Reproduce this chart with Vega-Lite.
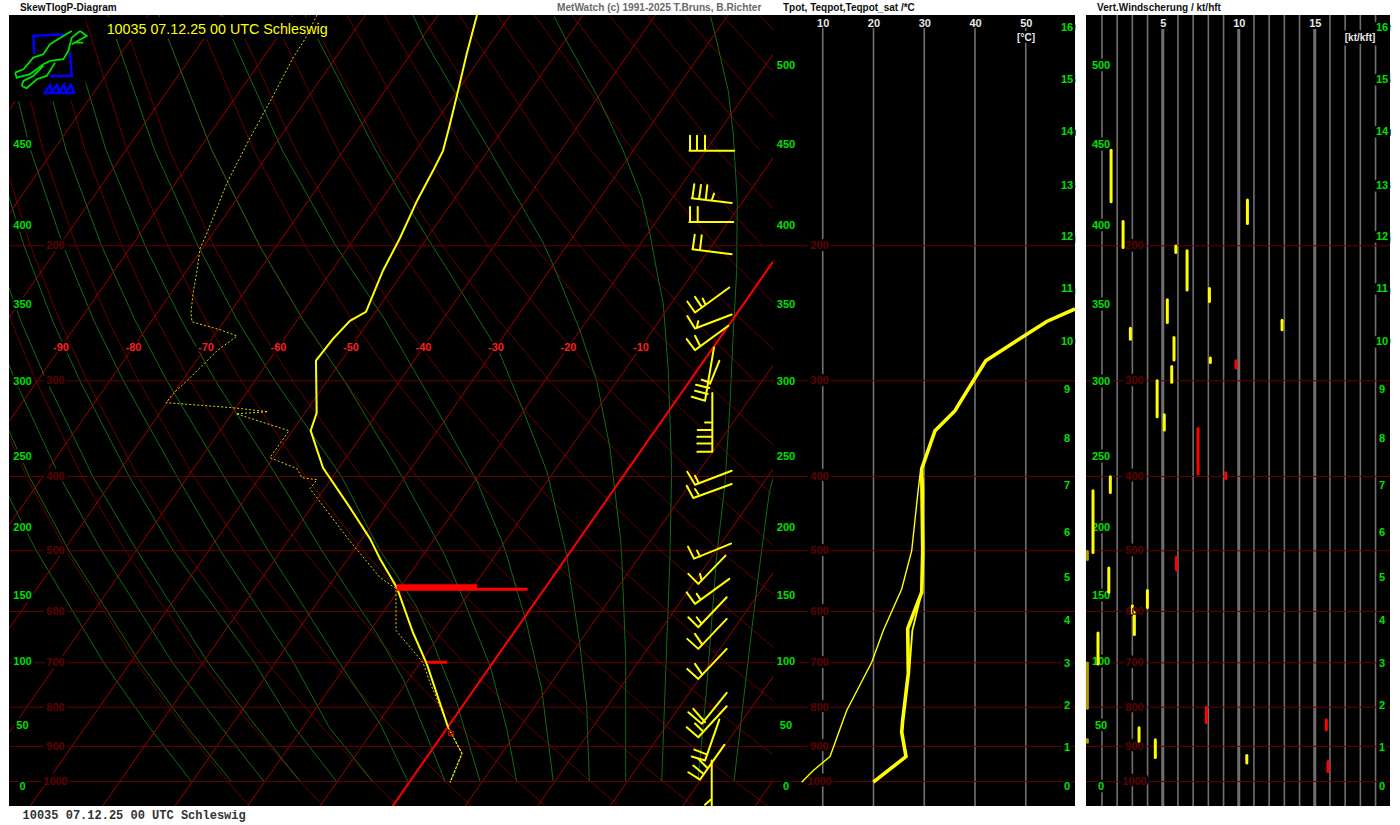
{"$schema":"https://vega.github.io/schema/vega-lite/v6.json","background":"white","padding":{"left":8,"top":2,"right":0,"bottom":6},"spacing":9,
"config":{"view":{"fill":"#000000","stroke":null}},
"datasets":{
"iso":[{"p":200,"a":-97.17,"a2":8.21,"la":-90.83,"b":0.2,"b2":59.7,"lb":9.26,"c":-0.05,"c2":19.95,"lc":3.11},{"p":300,"a":-97.17,"a2":8.21,"la":-90.83,"b":0.2,"b2":59.7,"lb":9.26,"c":-0.05,"c2":19.95,"lc":3.11},{"p":400,"a":-97.17,"a2":8.21,"la":-90.83,"b":0.2,"b2":59.7,"lb":9.26,"c":-0.05,"c2":19.95,"lc":3.11},{"p":500,"a":-97.17,"a2":8.21,"la":-90.83,"b":0.2,"b2":59.7,"lb":9.26,"c":-0.05,"c2":19.95,"lc":3.11},{"p":600,"a":-97.17,"a2":8.21,"la":-90.83,"b":0.2,"b2":59.7,"lb":9.26,"c":-0.05,"c2":19.95,"lc":3.11},{"p":700,"a":-97.17,"a2":8.21,"la":-90.83,"b":0.2,"b2":59.7,"lb":9.26,"c":-0.05,"c2":19.95,"lc":3.11},{"p":800,"a":-97.17,"a2":8.21,"la":-90.83,"b":0.2,"b2":59.7,"lb":9.26,"c":-0.05,"c2":19.95,"lc":3.11},{"p":900,"a":-97.17,"a2":8.21,"la":-90.83,"b":0.2,"b2":59.7,"lb":9.26,"c":-0.05,"c2":19.95,"lc":3.11},{"p":1000,"a":-97.17,"a2":8.21,"la":-90.83,"b":0.2,"b2":59.7,"lb":9.26,"c":-0.05,"c2":19.95,"lc":3.11}],
"gpdam":[{"t":"500","p":116.5,"a":-95.31,"b":2.76,"c":0.94},{"t":"450","p":147.8,"a":-95.31,"b":2.76,"c":0.94},{"t":"400","p":188.4,"a":-95.31,"b":2.76,"c":0.94},{"t":"350","p":238.9,"a":-95.31,"b":2.76,"c":0.94},{"t":"300","p":301.3,"a":-95.31,"b":2.76,"c":0.94},{"t":"250","p":377,"a":-95.31,"b":2.76,"c":0.94},{"t":"200","p":466.5,"a":-95.31,"b":2.76,"c":0.94},{"t":"150","p":572.1,"a":-95.31,"b":2.76,"c":0.94},{"t":"100","p":698.6,"a":-95.31,"b":2.76,"c":0.94},{"t":"50","p":846.6,"a":-95.31,"b":2.76,"c":0.94},{"t":"0","p":1016.7,"a":-95.31,"b":2.76,"c":0.94}],
"km":[{"t":"16","p":104,"b":58.13,"c":19.43},{"t":"15","p":121.5,"b":58.13,"c":19.43},{"t":"14","p":142,"b":58.13,"c":19.43},{"t":"13","p":167.1,"b":58.13,"c":19.43},{"t":"12","p":194.8,"b":58.13,"c":19.43},{"t":"11","p":227.6,"b":58.13,"c":19.43},{"t":"10","p":266.9,"b":58.13,"c":19.43},{"t":"9","p":308.3,"b":58.13,"c":19.43},{"t":"8","p":357,"b":58.13,"c":19.43},{"t":"7","p":411.2,"b":58.13,"c":19.43},{"t":"6","p":473.5,"b":58.13,"c":19.43},{"t":"5","p":541.9,"b":58.13,"c":19.43},{"t":"4","p":616.7,"b":58.13,"c":19.43},{"t":"3","p":701.7,"b":58.13,"c":19.43},{"t":"2","p":796,"b":58.13,"c":19.43},{"t":"1","p":903,"b":58.13,"c":19.43},{"t":"0","p":1016.7,"b":58.13,"c":19.43}],
"tlab":[{"t":"-90","x":-90,"p":271.8},{"t":"-80","x":-80,"p":271.8},{"t":"-70","x":-70,"p":271.8},{"t":"-60","x":-60,"p":271.8},{"t":"-50","x":-50,"p":271.8},{"t":"-40","x":-40,"p":271.8},{"t":"-30","x":-30,"p":271.8},{"t":"-20","x":-20,"p":271.8},{"t":"-10","x":-10,"p":271.8}],
"isotherms":[{"T":-120,"x":-164.25,"x2":-88,"p":1076.4,"p2":100},{"T":-110,"x":-154.25,"x2":-78,"p":1076.4,"p2":100},{"T":-100,"x":-144.25,"x2":-68,"p":1076.4,"p2":100},{"T":-90,"x":-134.25,"x2":-58,"p":1076.4,"p2":100},{"T":-80,"x":-124.25,"x2":-48,"p":1076.4,"p2":100},{"T":-70,"x":-114.25,"x2":-38,"p":1076.4,"p2":100},{"T":-60,"x":-104.25,"x2":-28,"p":1076.4,"p2":100},{"T":-50,"x":-94.25,"x2":-18,"p":1076.4,"p2":100},{"T":-40,"x":-84.25,"x2":-8,"p":1076.4,"p2":100},{"T":-30,"x":-74.25,"x2":2,"p":1076.4,"p2":100},{"T":-20,"x":-64.25,"x2":12,"p":1076.4,"p2":100},{"T":-10,"x":-54.25,"x2":22,"p":1076.4,"p2":100},{"T":10,"x":-34.25,"x2":42,"p":1076.4,"p2":100},{"T":20,"x":-24.25,"x2":52,"p":1076.4,"p2":100},{"T":30,"x":-14.25,"x2":62,"p":1076.4,"p2":100},{"T":40,"x":-4.25,"x2":72,"p":1076.4,"p2":100},{"T":50,"x":5.75,"x2":82,"p":1076.4,"p2":100}],
"dry":[
{"c":"248","p":1078,"x":-63.97},{"c":"248","p":1000,"x":-66.99},{"c":"248","p":850,"x":-73.05},{"c":"248","p":700,"x":-79.6},{"c":"248","p":500,"x":-89.33},{"c":"248","p":400,"x":-94.77},{"c":"248","p":300,"x":-100.57},
{"c":"258","p":1078,"x":-53.75},{"c":"258","p":1000,"x":-56.99},{"c":"258","p":850,"x":-63.5},{"c":"258","p":700,"x":-70.57},{"c":"258","p":500,"x":-81.13},{"c":"258","p":400,"x":-87.08},{"c":"258","p":300,"x":-93.48},{"c":"258","p":250,"x":-96.93},{"c":"258","p":200,"x":-100.51},
{"c":"268","p":1078,"x":-43.54},{"c":"268","p":1000,"x":-46.99},{"c":"268","p":850,"x":-53.96},{"c":"268","p":700,"x":-61.54},{"c":"268","p":500,"x":-72.93},{"c":"268","p":400,"x":-79.38},{"c":"268","p":300,"x":-86.4},{"c":"268","p":250,"x":-90.21},{"c":"268","p":200,"x":-94.2},{"c":"268","p":150,"x":-98.3},
{"c":"278","p":1078,"x":-33.32},{"c":"278","p":1000,"x":-36.99},{"c":"278","p":850,"x":-44.41},{"c":"278","p":700,"x":-52.51},{"c":"278","p":500,"x":-64.72},{"c":"278","p":400,"x":-71.69},{"c":"278","p":300,"x":-79.31},{"c":"278","p":250,"x":-83.48},{"c":"278","p":200,"x":-87.89},{"c":"278","p":150,"x":-92.49},{"c":"278","p":100,"x":-97.17},
{"c":"288","p":1078,"x":-23.1},{"c":"288","p":1000,"x":-26.99},{"c":"288","p":850,"x":-34.87},{"c":"288","p":700,"x":-43.48},{"c":"288","p":500,"x":-56.52},{"c":"288","p":400,"x":-64},{"c":"288","p":300,"x":-72.22},{"c":"288","p":250,"x":-76.75},{"c":"288","p":200,"x":-81.58},{"c":"288","p":150,"x":-86.68},{"c":"288","p":100,"x":-92},
{"c":"298","p":1078,"x":-12.89},{"c":"298","p":1000,"x":-16.99},{"c":"298","p":850,"x":-25.32},{"c":"298","p":700,"x":-34.45},{"c":"298","p":500,"x":-48.32},{"c":"298","p":400,"x":-56.3},{"c":"298","p":300,"x":-65.14},{"c":"298","p":250,"x":-70.03},{"c":"298","p":200,"x":-75.27},{"c":"298","p":150,"x":-80.87},{"c":"298","p":100,"x":-86.82},
{"c":"308","p":1078,"x":-2.67},{"c":"308","p":1000,"x":-6.99},{"c":"308","p":850,"x":-15.78},{"c":"308","p":700,"x":-25.42},{"c":"308","p":500,"x":-40.12},{"c":"308","p":400,"x":-48.61},{"c":"308","p":300,"x":-58.05},{"c":"308","p":250,"x":-63.3},{"c":"308","p":200,"x":-68.95},{"c":"308","p":150,"x":-75.05},{"c":"308","p":100,"x":-81.64},
{"c":"318","p":1078,"x":7.55},{"c":"318","p":1000,"x":3.01},{"c":"318","p":850,"x":-6.23},{"c":"318","p":700,"x":-16.39},{"c":"318","p":500,"x":-31.92},{"c":"318","p":400,"x":-40.91},{"c":"318","p":300,"x":-50.96},{"c":"318","p":250,"x":-56.57},{"c":"318","p":200,"x":-62.64},{"c":"318","p":150,"x":-69.24},{"c":"318","p":100,"x":-76.47},
{"c":"328","p":1078,"x":17.77},{"c":"328","p":1000,"x":13.01},{"c":"328","p":850,"x":3.32},{"c":"328","p":700,"x":-7.36},{"c":"328","p":500,"x":-23.71},{"c":"328","p":400,"x":-33.22},{"c":"328","p":300,"x":-43.87},{"c":"328","p":250,"x":-49.84},{"c":"328","p":200,"x":-56.33},{"c":"328","p":150,"x":-63.43},{"c":"328","p":100,"x":-71.29},
{"c":"338","p":850,"x":12.86},{"c":"338","p":700,"x":1.67},{"c":"338","p":500,"x":-15.51},{"c":"338","p":400,"x":-25.52},{"c":"338","p":300,"x":-36.79},{"c":"338","p":250,"x":-43.12},{"c":"338","p":200,"x":-50.02},{"c":"338","p":150,"x":-57.61},{"c":"338","p":100,"x":-66.11},
{"c":"348","p":700,"x":10.7},{"c":"348","p":500,"x":-7.31},{"c":"348","p":400,"x":-17.83},{"c":"348","p":300,"x":-29.7},{"c":"348","p":250,"x":-36.39},{"c":"348","p":200,"x":-43.71},{"c":"348","p":150,"x":-51.8},{"c":"348","p":100,"x":-60.94},
{"c":"358","p":700,"x":19.73},{"c":"358","p":500,"x":0.89},{"c":"358","p":400,"x":-10.13},{"c":"358","p":300,"x":-22.61},{"c":"358","p":250,"x":-29.66},{"c":"358","p":200,"x":-37.4},{"c":"358","p":150,"x":-45.99},{"c":"358","p":100,"x":-55.76},
{"c":"368","p":500,"x":9.09},{"c":"368","p":400,"x":-2.44},{"c":"368","p":300,"x":-15.53},{"c":"368","p":250,"x":-22.94},{"c":"368","p":200,"x":-31.09},{"c":"368","p":150,"x":-40.17},{"c":"368","p":100,"x":-50.59},
{"c":"378","p":500,"x":17.3},{"c":"378","p":400,"x":5.25},{"c":"378","p":300,"x":-8.44},{"c":"378","p":250,"x":-16.21},{"c":"378","p":200,"x":-24.78},{"c":"378","p":150,"x":-34.36},{"c":"378","p":100,"x":-45.41},
{"c":"388","p":400,"x":12.95},{"c":"388","p":300,"x":-1.35},{"c":"388","p":250,"x":-9.48},{"c":"388","p":200,"x":-18.47},{"c":"388","p":150,"x":-28.55},{"c":"388","p":100,"x":-40.24},
{"c":"398","p":300,"x":5.74},{"c":"398","p":250,"x":-2.76},{"c":"398","p":200,"x":-12.16},{"c":"398","p":150,"x":-22.74},{"c":"398","p":100,"x":-35.06},
{"c":"408","p":300,"x":12.82},{"c":"408","p":250,"x":3.97},{"c":"408","p":200,"x":-5.85},{"c":"408","p":150,"x":-16.92},{"c":"408","p":100,"x":-29.88},
{"c":"418","p":250,"x":10.7},{"c":"418","p":200,"x":0.46},{"c":"418","p":150,"x":-11.11},{"c":"418","p":100,"x":-24.71},
{"c":"428","p":200,"x":6.77},{"c":"428","p":150,"x":-5.3},{"c":"428","p":100,"x":-19.53},
{"c":"438","p":200,"x":13.08},{"c":"438","p":150,"x":0.51},{"c":"438","p":100,"x":-14.36},
{"c":"448","p":150,"x":6.33},{"c":"448","p":100,"x":-9.18},
{"c":"458","p":150,"x":12.14},{"c":"458","p":100,"x":-4},
{"c":"468","p":150,"x":17.95},{"c":"468","p":100,"x":1.17},
{"c":"478","p":150,"x":23.77},{"c":"478","p":100,"x":6.35}],
"moist":[
{"c":"-30","p":1000,"x":-71.99},{"c":"-30","p":850,"x":-77.8},{"c":"-30","p":700,"x":-84.1},{"c":"-30","p":500,"x":-93.4},{"c":"-30","p":400,"x":-98.6},
{"c":"-25","p":1000,"x":-66.49},{"c":"-25","p":850,"x":-72.6},{"c":"-25","p":700,"x":-79.1},{"c":"-25","p":500,"x":-88.9},{"c":"-25","p":400,"x":-94.4},{"c":"-25","p":300,"x":-100.2},
{"c":"-20","p":1000,"x":-61.99},{"c":"-20","p":850,"x":-67.9},{"c":"-20","p":700,"x":-74.6},{"c":"-20","p":500,"x":-84.4},{"c":"-20","p":400,"x":-90.2},{"c":"-20","p":300,"x":-96.3},{"c":"-20","p":250,"x":-99.6},
{"c":"-15","p":1000,"x":-56.99},{"c":"-15","p":850,"x":-63},{"c":"-15","p":700,"x":-69.7},{"c":"-15","p":500,"x":-79.5},{"c":"-15","p":400,"x":-85.6},{"c":"-15","p":300,"x":-92},{"c":"-15","p":250,"x":-95.6},{"c":"-15","p":200,"x":-99.2},
{"c":"-10","p":1000,"x":-51.99},{"c":"-10","p":850,"x":-57.8},{"c":"-10","p":700,"x":-63.3},{"c":"-10","p":500,"x":-74.5},{"c":"-10","p":400,"x":-80.6},{"c":"-10","p":300,"x":-87.4},{"c":"-10","p":250,"x":-91.2},{"c":"-10","p":200,"x":-95.1},{"c":"-10","p":150,"x":-99.2},
{"c":"-5","p":1000,"x":-46.99},{"c":"-5","p":850,"x":-53},{"c":"-5","p":700,"x":-57.9},{"c":"-5","p":500,"x":-68},{"c":"-5","p":400,"x":-74},{"c":"-5","p":300,"x":-81.4},{"c":"-5","p":250,"x":-85.5},{"c":"-5","p":200,"x":-89.7},{"c":"-5","p":150,"x":-94.2},{"c":"-5","p":100,"x":-98.8},
{"c":"0","p":1000,"x":-42.14},{"c":"0","p":840,"x":-46},{"c":"0","p":700,"x":-51.6},{"c":"0","p":500,"x":-61.4},{"c":"0","p":400,"x":-67.5},{"c":"0","p":300,"x":-75.4},{"c":"0","p":250,"x":-79.8},{"c":"0","p":200,"x":-84.4},{"c":"0","p":150,"x":-89.3},{"c":"0","p":100,"x":-94.3},
{"c":"5","p":1000,"x":-37.03},{"c":"5","p":871,"x":-39.56},{"c":"5","p":733.9,"x":-42.83},{"c":"5","p":651,"x":-46},{"c":"5","p":500,"x":-54},{"c":"5","p":400,"x":-60.2},{"c":"5","p":300,"x":-68.7},{"c":"5","p":250,"x":-73.4},{"c":"5","p":200,"x":-78.4},{"c":"5","p":150,"x":-83.8},{"c":"5","p":100,"x":-89.4},
{"c":"10","p":1000,"x":-32.2},{"c":"10","p":789,"x":-35.42},{"c":"10","p":658.8,"x":-38.69},{"c":"10","p":592,"x":-40.94},{"c":"10","p":538.6,"x":-43.66},{"c":"10","p":500,"x":-46},{"c":"10","p":400,"x":-51.3},{"c":"10","p":300,"x":-60.5},{"c":"10","p":250,"x":-65.7},{"c":"10","p":200,"x":-71.1},{"c":"10","p":150,"x":-77.1},{"c":"10","p":100,"x":-83.5},
{"c":"15","p":1000,"x":-27.14},{"c":"15","p":852.9,"x":-28.52},{"c":"15","p":706,"x":-30.83},{"c":"15","p":577,"x":-34.55},{"c":"15","p":507.4,"x":-37.03},{"c":"15","p":485,"x":-38.14},{"c":"15","p":402,"x":-42.83},{"c":"15","p":300,"x":-50.9},{"c":"15","p":250,"x":-56.6},{"c":"15","p":200,"x":-62.6},{"c":"15","p":150,"x":-69.2},{"c":"15","p":100,"x":-76.5},
{"c":"20","p":1000,"x":-22.1},{"c":"20","p":756.4,"x":-23.7},{"c":"20","p":622,"x":-25.77},{"c":"20","p":507,"x":-28.52},{"c":"20","p":485,"x":-29.21},{"c":"20","p":405.1,"x":-32.66},{"c":"20","p":338.3,"x":-37.27},{"c":"20","p":250,"x":-45.3},{"c":"20","p":200,"x":-52.1},{"c":"20","p":150,"x":-59.5},{"c":"20","p":100,"x":-67.8},
{"c":"25","p":1000,"x":-17.13},{"c":"25","p":796,"x":-17.49},{"c":"25","p":664.6,"x":-18.41},{"c":"25","p":507.4,"x":-20.25},{"c":"25","p":485,"x":-20.72},{"c":"25","p":393.1,"x":-23.01},{"c":"25","p":328.3,"x":-26.23},{"c":"25","p":276.6,"x":-29.45},{"c":"25","p":215.6,"x":-36.58},{"c":"25","p":195.9,"x":-39.38},{"c":"25","p":170.6,"x":-43.24},{"c":"25","p":150,"x":-46.6},{"c":"25","p":100,"x":-56.3},
{"c":"30","p":1000,"x":-12.11},{"c":"30","p":685.1,"x":-12.11},{"c":"30","p":507.4,"x":-12.66},{"c":"30","p":485,"x":-12.8},{"c":"30","p":366.9,"x":-14.28},{"c":"30","p":300,"x":-16.11},{"c":"30","p":258.2,"x":-18.41},{"c":"30","p":215.6,"x":-21.77},{"c":"30","p":198.3,"x":-23.48},{"c":"30","p":178.5,"x":-26.28},{"c":"30","p":150.4,"x":-30.83},{"c":"30","p":123,"x":-36.34},{"c":"30","p":108.1,"x":-39.79},{"c":"30","p":100,"x":-41.45},
{"c":"35","p":1000,"x":-7.14},{"c":"35","p":507.4,"x":-6},{"c":"35","p":393.1,"x":-5.77},{"c":"35","p":291.2,"x":-6.23},{"c":"35","p":238,"x":-6.92},{"c":"35","p":215.6,"x":-7.83},{"c":"35","p":193,"x":-8.76},{"c":"35","p":173.3,"x":-9.9},{"c":"35","p":150.4,"x":-12.44},{"c":"35","p":129.5,"x":-15.66},{"c":"35","p":108.1,"x":-20.25},{"c":"35","p":100.5,"x":-21.96},
{"c":"40","p":1000,"x":-2.14},{"c":"40","p":756.4,"x":-0.94},{"c":"40","p":507.4,"x":0.44},{"c":"40","p":408.7,"x":1.59},{"c":"40","p":321.5,"x":2.28},{"c":"40","p":264.5,"x":2.69},{"c":"40","p":215.6,"x":3.2},{"c":"40","p":174.8,"x":3.28},{"c":"40","p":143,"x":2.73},{"c":"40","p":125.6,"x":2.04},{"c":"40","p":108.1,"x":0.44},{"c":"40","p":100.5,"x":-0.39},
{"c":"45","p":1000,"x":2.83},{"c":"45","p":721,"x":4.58},{"c":"45","p":560.2,"x":5.96},{"c":"45","p":485,"x":6.83},{"c":"45","p":419.9,"x":7.7},{"c":"45","p":393,"x":8.5}],
"temp":[{"x":-32.62,"p":100},{"x":-34.04,"p":112.4},{"x":-35.24,"p":125.6},{"x":-36.34,"p":138.7},{"x":-37.31,"p":150.4},{"x":-38.69,"p":159.7},{"x":-40.9,"p":174.8},{"x":-43.24,"p":195.4},{"x":-45.59,"p":215.6},{"x":-47.93,"p":243.9},{"x":-50.14,"p":250.6},{"x":-52.48,"p":264.5},{"x":-54.83,"p":282.5},{"x":-54.73,"p":330.3},{"x":-55.56,"p":348.6},{"x":-53.86,"p":389.6},{"x":-50.14,"p":439.3},{"x":-47.38,"p":482.1},{"x":-46,"p":512},{"x":-43.66,"p":558.6},{"x":-41.45,"p":639.2},{"x":-39.52,"p":703.6},{"x":-36.62,"p":849.1}],
"templow":[{"x":-36.62,"p":849.1},{"x":-34.69,"p":919.4},{"x":-36.34,"p":1003}],
"dew":[{"x":-54.69,"p":100},{"x":-56.34,"p":107.5},{"x":-58,"p":113.8},{"x":-60.9,"p":128.3},{"x":-63.93,"p":144.7},{"x":-67.1,"p":165.6},{"x":-69.86,"p":192.4},{"x":-70.83,"p":201.9},{"x":-71.24,"p":215.6},{"x":-71.79,"p":231},{"x":-72.07,"p":244.6},{"x":-71.93,"p":251.4},{"x":-68.07,"p":257.4},{"x":-65.72,"p":262.3},{"x":-68.48,"p":274.2},{"x":-72.62,"p":300},{"x":-74.55,"p":312},{"x":-75.52,"p":320.5},{"x":-69.86,"p":323.4},{"x":-66.28,"p":325.4},{"x":-61.45,"p":329.3},{"x":-63.52,"p":330.3},{"x":-65.86,"p":331.3},{"x":-58.55,"p":348.6},{"x":-61.17,"p":378.1},{"x":-57.45,"p":390.7},{"x":-56.76,"p":401.5},{"x":-54.69,"p":403.9},{"x":-55.66,"p":414.9},{"x":-50.41,"p":482.1},{"x":-46,"p":541.9},{"x":-43.79,"p":560.2},{"x":-43.79,"p":635.5},{"x":-41.45,"p":674.8},{"x":-40.07,"p":699.7},{"x":-39.1,"p":742.9},{"x":-36.62,"p":845.3}],
"wind":[{"s":"b01","p":150.4,"x":-0.34},{"s":"b02","p":174.8,"x":-0.34},{"s":"b03","p":186.2,"x":-0.34},{"s":"b04","p":203.7,"x":-0.34},{"s":"b05","p":236,"x":-0.34},{"s":"b06","p":252.1,"x":-0.34},{"s":"b07","p":264.5,"x":-0.34},{"s":"b08","p":293.8,"x":-0.34},{"s":"b09","p":339.3,"x":-0.34},{"s":"b10","p":400.3,"x":-0.34},{"s":"b11","p":418.7,"x":-0.34},{"s":"b12","p":501.3,"x":-0.34},{"s":"b13","p":530.7,"x":-0.34},{"s":"b14","p":565.3,"x":-0.34},{"s":"b15","p":603.8,"x":-0.34},{"s":"b16","p":645.1,"x":-0.34},{"s":"b16","p":706,"x":-0.34},{"s":"b17","p":812.9,"x":-0.34},{"s":"b18","p":840.2,"x":-0.34},{"s":"b19","p":892.3,"x":-0.34},{"s":"b20","p":947.5,"x":-0.34},{"s":"b21","p":1003,"x":-0.34}]
},
"hconcat":[{"bounds":"flush","spacing":0,"hconcat":[
{"width":764,"height":791,
"encoding":{"x":{"field":"x","type":"quantitative","title":null,"axis":null,"scale":{"domain":[-97.17,8.21],"nice":false,"zero":false}},
"y":{"field":"p","type":"quantitative","title":null,"scale":{"type":"log","domain":[100,1076.4],"reverse":true,"nice":false},"axis":{"orient":"left","values":[200,300,400,500,600,700,800,900,1000],"format":"d","domain":false,"ticks":false,"grid":false,"labelPadding":-46,"labelAlign":"center","labelColor":"#600000","labelFont":"Liberation Sans","labelFontWeight":"bold","labelFontSize":11,"labelOverlap":false,"labelBound":false,"zindex":1}}},
"layer":[
{"data":{"name":"dry"},"mark":{"type":"line","clip":true,"stroke":"#660000","strokeWidth":1},"encoding":{"detail":{"field":"c"},"order":{"value":null}}},
{"data":{"name":"moist"},"mark":{"type":"line","clip":true,"stroke":"#136a13","strokeWidth":1},"encoding":{"detail":{"field":"c"},"order":{"value":null}}},
{"data":{"name":"isotherms"},"mark":{"type":"rule","clip":true,"stroke":"#a00000","strokeWidth":1},"encoding":{"x2":{"field":"x2"},"y2":{"field":"p2"}}},
{"data":{"name":"iso"},"mark":{"type":"rule","stroke":"#660000","strokeWidth":1},"encoding":{"x":{"field":"a"},"x2":{"field":"a2"}}},
{"data":{"values":[{"x":-97.17,"x2":-86.6,"p":100,"p2":129.5},{"x":-85.72,"x2":-52.9,"p":100.6,"p2":107.5}]},"mark":{"type":"rect","fill":"#000000"},"encoding":{"x2":{"field":"x2"},"y2":{"field":"p2"}}},
{"data":{"values":[{"x":-44.25,"x2":32,"p":1076.4,"p2":100}]},"mark":{"type":"rule","clip":true,"stroke":"#ff0000","strokeWidth":2},"encoding":{"x2":{"field":"x2"},"y2":{"field":"p2"}}},
{"data":{"name":"gpdam"},"transform":[{"filter":"datum.p>120"}],"mark":{"type":"text","font":"Liberation Sans","fontWeight":"bold","fontSize":11,"fill":"#000000","stroke":"#000000","strokeWidth":5},"encoding":{"x":{"field":"a"},"text":{"field":"t","type":"nominal"}}},
{"data":{"name":"iso"},"mark":{"type":"text","font":"Liberation Sans","fontWeight":"bold","fontSize":11,"fill":"#000000","stroke":"#000000","strokeWidth":5},"encoding":{"x":{"field":"la"},"text":{"field":"p","type":"nominal"}}},
{"data":{"name":"tlab"},"mark":{"type":"text","font":"Liberation Sans","fontWeight":"bold","fontSize":11,"fill":"#000000","stroke":"#000000","strokeWidth":4},"encoding":{"text":{"field":"t","type":"nominal"}}},
{"data":{"name":"tlab"},"mark":{"type":"text","font":"Liberation Sans","fontWeight":"bold","fontSize":11,"fill":"#ff1e1e"},"encoding":{"text":{"field":"t","type":"nominal"}}},
{"data":{"name":"gpdam"},"transform":[{"filter":"datum.p>120"}],"mark":{"type":"text","font":"Liberation Sans","fontWeight":"bold","fontSize":11,"fill":"#00e000"},"encoding":{"x":{"field":"a"},"text":{"field":"t","type":"nominal"}}},
{"data":{"name":"dew"},"mark":{"type":"line","stroke":"#d8d800","strokeWidth":1,"strokeDash":[2,2],"clip":true},"encoding":{"order":{"value":null}}},
{"data":{"name":"templow"},"mark":{"type":"line","stroke":"#e8e800","strokeWidth":1.3,"strokeDash":[3,1]},"encoding":{"order":{"value":null}}},
{"data":{"name":"temp"},"mark":{"type":"line","stroke":"#ffff00","strokeWidth":2},"encoding":{"order":{"value":null}}},
{"data":{"values":[{"x":-43.7,"x2":-25.63,"p":561.3},{"x":-39.51,"x2":-36.75,"p":699}]},"mark":{"type":"rule","stroke":"#ff0000","strokeWidth":3},"encoding":{"x2":{"field":"x2"}}},
{"data":{"values":[{"x":-43.7,"x2":-32.62,"p":558}]},"mark":{"type":"rule","stroke":"#ff0000","strokeWidth":6},"encoding":{"x2":{"field":"x2"}}},
{"data":{"values":[{"x":-36.21,"p":865.8}]},"mark":{"type":"point","shape":"square","size":20,"filled":false,"stroke":"#ff0000","strokeWidth":1,"opacity":1}},
{"data":{"name":"wind"},"mark":{"type":"point","filled":false,"size":4,"opacity":1,"strokeWidth":2,"strokeCap":"round","stroke":"#ffff00"},
"encoding":{"shape":{"field":"s","type":"nominal","legend":null,"scale":{"domain":["b01","b02","b03","b04","b05","b06","b07","b08","b09","b10","b11","b12","b13","b14","b15","b16","b17","b18","b19","b20","b21"],"range":[
"M-21.5 0L23 0M-21 0L-21 -15M-14 0L-14 -15M-6 0L-6 -15",
"M-19.3 -2.7L20.7 2M-16.7 -16.7L-18.7 -2.7M-10 -16L-12 -1.7M-3.7 -15.7L-5.3 -1M3 -7.3L0.7 -0.7",
"M-21.7 0L22.3 0M-21 0L-21 -15M-13.3 0L-13.3 -15",
"M-18.7 -2.7L20.7 2.3M-16.3 -17L-18.3 -2.7M-9.3 -16.7L-11 -2",
"M-16 11.7L18.3 -13.3M-23.7 0.7L-16 11.7M-16 -4L-9.3 6M-8.3 -2.3L-6 2.7",
"M-16 5.7L20.7 -8.3M-23.7 -6.7L-16 5.7M-12.7 -1.7L-14.3 5",
"M-16 11.3L17.3 -13M-24.3 0.3L-16 11.3M-16 -3L-11 7",
"M-6 27L3 -26.3M-19.3 23L-6 27M-16 17L-3.3 20.3M-15 11L-1.7 14.3M-9.3 6L-1 8.7M8.3 -13L-1 10",
"M1.3 -28.7L1.3 30M-6 0.7L1.3 0.7M-13.3 8.3L1.3 8.3M-13.7 15L1.3 15M-13.7 21.7L1.3 21.7M-13.7 30L1.3 30",
"M-16 8L20.7 -6M-23.7 -5L-16 8M-16 -1L-12.7 5.7",
"M-17.7 6.3L20.7 -7.7M-24.3 -6L-17.7 6.3M-16 -2.7L-12.7 2.3",
"M-17 7L20 -8M-23 -5L-17 7M-14 -1L-11 5",
"M-12.7 13.3L14.5 -15M-22.7 3.3L-12.7 13.3M-11 3.3L-9.3 10",
"M-16 12.3L18.3 -12.7M-24.3 0.7L-16 12.3M-14.3 2.3L-11 7.3",
"M-12.7 13.7L15.7 -16.3M-22.7 3.7L-12.7 13.7M-14.3 3.7L-9.3 10.3",
"M-12.7 13.3L15.7 -16.7M-23.7 3.3L-12.7 13.3M-16 -1.7L-9.3 8.3",
"M-9.3 11.3L15.7 -19.7M-22.7 -0.3L-9.3 11.3M-17.7 -3.7L-6 9.7",
"M-12.7 13.7L15.7 -17.3M-24.3 3.7L-12.7 13.7M-16 0L-9 7",
"M-6 17L8.3 -24M-19.3 13L-6 17M-16.7 6L-3.7 11",
"M-11 16L13.3 -18.7M-22.7 8.7L-11 16M-17.7 2L-7.7 10.3M-12.7 -4.7L-4.3 3.7",
"M0.7 -22L0.7 23M-6 22.3L0.7 16.3"]}}}},
{"data":{"values":[{"s":"logo","x":-92.2,"p":114.8}]},"mark":{"type":"point","filled":false,"size":4,"opacity":1,"strokeWidth":2.5,"stroke":"#0000ff","shape":"M-10.7 -7L-11.7 -25L18.3 -26.7M25 -8.3L26.7 15L5 15M-2 32L30 32M0 32L5 24L7 31L12 24L14 31L19 24L21 31L26 24L29 32"}},
{"data":{"values":[{"s":"logo","x":-92.2,"p":114.8}]},"mark":{"type":"point","filled":false,"size":4,"opacity":1,"strokeWidth":1.8,"stroke":"#00e000","shape":"M-30 11.7L-21.7 8.3L-11.7 -3.3L-1.7 -6.7L5 -16.7L18.3 -25L26.7 -30M-30 11.7L-28.3 16.7L-15 13.3L-1.7 3.3L5 0L18.3 -1.7L23.3 -10L26.7 -23.3L35 -30M-23.3 25L-21.7 20L-11.7 15L-1.7 5M-23.3 25L-18.3 27.3L-8.3 18.3L1.7 15L10 1.7M26.7 -16.7L41.7 -25L35 -30M30 -18.3L38.3 -18.3"}},
{"data":{"values":[{"t":"10035 07.12.25 00 UTC Schleswig","x":-83.7,"p":104.7}]},"mark":{"type":"text","align":"left","font":"Liberation Sans","fontSize":14.3,"fill":"#ffff00"},"encoding":{"text":{"field":"t","type":"nominal"}}},
{"data":{"values":[{"t":"SkewTlogP-Diagram","x":-95.66,"p":97.9}]},"mark":{"type":"text","align":"left","font":"Liberation Sans","fontWeight":"bold","fontSize":10,"fill":"#111111"},"encoding":{"text":{"field":"t","type":"nominal"}}},
{"data":{"values":[{"t":"MetWatch  (c) 1991-2025 T.Bruns, B.Richter","x":-21.59,"p":97.9}]},"mark":{"type":"text","align":"left","font":"Liberation Sans","fontWeight":"bold","fontSize":10.15,"fill":"#6a6a6a"},"encoding":{"text":{"field":"t","type":"nominal"}}},
{"data":{"values":[{"t":"10035 07.12.25 00 UTC Schleswig","x":-95.31,"p":1105.8}]},"mark":{"type":"text","align":"left","font":"Liberation Mono","fontWeight":"bold","fontSize":12,"fill":"#333333"},"encoding":{"text":{"field":"t","type":"nominal"}}}
]},
{"width":302,"height":791,
"encoding":{"x":{"field":"x","type":"quantitative","title":null,"scale":{"domain":[0.2,59.7],"nice":false,"zero":false},"axis":{"orient":"top","values":[10,20,30,40,50],"domain":false,"ticks":false,"grid":false,"labelPadding":-13,"labelColor":"#e8e8e8","labelFont":"Liberation Sans","labelFontWeight":"bold","labelFontSize":11,"labelOverlap":false,"zindex":1}},
"y":{"field":"p","type":"quantitative","title":null,"scale":{"type":"log","domain":[100,1076.4],"reverse":true,"nice":false},"axis":{"orient":"left","values":[200,300,400,500,600,700,800,900,1000],"format":"d","domain":false,"ticks":false,"grid":false,"labelPadding":-46,"labelAlign":"center","labelColor":"#600000","labelFont":"Liberation Sans","labelFontWeight":"bold","labelFontSize":11,"labelOverlap":false,"labelBound":false,"zindex":1}}},
"layer":[
{"data":{"values":[{"x":10,"p":104,"p2":1076.4},{"x":20,"p":104,"p2":1076.4},{"x":30,"p":104,"p2":1076.4},{"x":40,"p":104,"p2":1076.4},{"x":50,"p":104,"p2":1076.4}]},"mark":{"type":"rule","stroke":"#707070","strokeWidth":1.6},"encoding":{"y2":{"field":"p2"}}},
{"data":{"name":"iso"},"mark":{"type":"rule","stroke":"#660000","strokeWidth":1},"encoding":{"x":{"field":"b"},"x2":{"field":"b2"}}},
{"data":{"name":"gpdam"},"mark":{"type":"text","font":"Liberation Sans","fontWeight":"bold","fontSize":11,"fill":"#000000","stroke":"#000000","strokeWidth":5},"encoding":{"x":{"field":"b"},"text":{"field":"t","type":"nominal"}}},
{"data":{"name":"km"},"mark":{"type":"text","font":"Liberation Sans","fontWeight":"bold","fontSize":11,"fill":"#000000","stroke":"#000000","strokeWidth":5},"encoding":{"x":{"field":"b"},"text":{"field":"t","type":"nominal"}}},
{"data":{"name":"iso"},"mark":{"type":"text","font":"Liberation Sans","fontWeight":"bold","fontSize":11,"fill":"#000000","stroke":"#000000","strokeWidth":5},"encoding":{"x":{"field":"lb"},"text":{"field":"p","type":"nominal"}}},
{"data":{"name":"gpdam"},"mark":{"type":"text","font":"Liberation Sans","fontWeight":"bold","fontSize":11,"fill":"#00e000"},"encoding":{"x":{"field":"b"},"text":{"field":"t","type":"nominal"}}},
{"data":{"name":"km"},"mark":{"type":"text","font":"Liberation Sans","fontWeight":"bold","fontSize":11,"fill":"#00e000"},"encoding":{"x":{"field":"b"},"text":{"field":"t","type":"nominal"}}},
{"data":{"values":[{"t":"[°C]","x":50.05,"p":107.3}]},"mark":{"type":"text","font":"Liberation Sans","fontWeight":"bold","fontSize":10,"fill":"#000000","stroke":"#000000","strokeWidth":5},"encoding":{"text":{"field":"t","type":"nominal"}}},
{"data":{"values":[{"t":"[°C]","x":50.05,"p":107.3}]},"mark":{"type":"text","font":"Liberation Sans","fontWeight":"bold","fontSize":10,"fill":"#e8e8e8"},"encoding":{"text":{"field":"t","type":"nominal"}}},
{"data":{"values":[{"x":5.85,"p":1002},{"x":8.14,"p":967.5},{"x":11.43,"p":927.8},{"x":14.72,"p":808},{"x":19.65,"p":699},{"x":21.93,"p":635.5},{"x":25.56,"p":560.8},{"x":27.53,"p":499.8},{"x":28.83,"p":415.2},{"x":29.3,"p":391.2}]},"mark":{"type":"line","stroke":"#ffff00","strokeWidth":1.4},"encoding":{"order":{"value":null}}},
{"data":{"values":[{"x":27,"p":727.5},{"x":27.19,"p":699},{"x":27.65,"p":635.5},{"x":29.5,"p":566.4},{"x":29.75,"p":499.8},{"x":29.81,"p":413.6},{"x":29.5,"p":390.8}]},"mark":{"type":"line","stroke":"#ffff00","strokeWidth":1.8},"encoding":{"order":{"value":null}}},
{"data":{"values":[{"x":19.96,"p":1002},{"x":26.4,"p":927.8},{"x":25.56,"p":862.3},{"x":25.75,"p":832.6},{"x":26.86,"p":723},{"x":26.74,"p":631.7},{"x":29.5,"p":566.4},{"x":29.7,"p":499.8},{"x":29.5,"p":390.8},{"x":32.12,"p":348.6},{"x":36.06,"p":328.3},{"x":37.04,"p":320.2},{"x":42.11,"p":282.5},{"x":54.13,"p":251.1},{"x":59.7,"p":241.8}]},"mark":{"type":"line","stroke":"#ffff00","strokeWidth":3.6,"clip":true},"encoding":{"order":{"value":null}}},
{"data":{"values":[{"t":"Tpot, Teqpot,Teqpot_sat /*C","x":2.16,"p":97.9}]},"mark":{"type":"text","align":"left","font":"Liberation Sans","fontWeight":"bold","fontSize":10,"fill":"#111111"},"encoding":{"text":{"field":"t","type":"nominal"}}}
]}
]},
{"width":304,"height":791,
"encoding":{"x":{"field":"x","type":"quantitative","title":null,"scale":{"domain":[-0.05,19.95],"nice":false,"zero":false},"axis":{"orient":"top","values":[5,10,15],"domain":false,"ticks":false,"grid":false,"labelPadding":-13,"labelColor":"#e8e8e8","labelFont":"Liberation Sans","labelFontWeight":"bold","labelFontSize":11,"labelOverlap":false,"zindex":1}},
"y":{"field":"p","type":"quantitative","title":null,"scale":{"type":"log","domain":[100,1076.4],"reverse":true,"nice":false},"axis":{"orient":"left","values":[200,300,400,500,600,700,800,900,1000],"format":"d","domain":false,"ticks":false,"grid":false,"labelPadding":-48,"labelAlign":"center","labelColor":"#600000","labelFont":"Liberation Sans","labelFontWeight":"bold","labelFontSize":11,"labelOverlap":false,"labelBound":false,"zindex":1}}},
"layer":[
{"data":{"values":[{"x":1,"p":100,"p2":1076.4},{"x":2,"p":100,"p2":1076.4},{"x":3,"p":100,"p2":1076.4},{"x":4,"p":100,"p2":1076.4},{"x":6,"p":100,"p2":1076.4},{"x":7,"p":100,"p2":1076.4},{"x":8,"p":100,"p2":1076.4},{"x":9,"p":100,"p2":1076.4},{"x":11,"p":100,"p2":1076.4},{"x":12,"p":100,"p2":1076.4},{"x":13,"p":100,"p2":1076.4},{"x":14,"p":100,"p2":1076.4},{"x":16,"p":100,"p2":1076.4},{"x":17,"p":100,"p2":1076.4},{"x":18,"p":100,"p2":1076.4},{"x":19,"p":100,"p2":1076.4}]},"mark":{"type":"rule","stroke":"#707070","strokeWidth":1.6},"encoding":{"y2":{"field":"p2"}}},
{"data":{"values":[{"x":5,"p":104.3,"p2":1076.4},{"x":10,"p":104.3,"p2":1076.4},{"x":15,"p":104.3,"p2":1076.4}]},"mark":{"type":"rule","stroke":"#707070","strokeWidth":3},"encoding":{"y2":{"field":"p2"}}},
{"data":{"name":"iso"},"mark":{"type":"rule","stroke":"#660000","strokeWidth":1},"encoding":{"x":{"field":"c"},"x2":{"field":"c2"}}},
{"data":{"name":"gpdam"},"mark":{"type":"text","font":"Liberation Sans","fontWeight":"bold","fontSize":11,"fill":"#000000","stroke":"#000000","strokeWidth":5},"encoding":{"x":{"field":"c"},"text":{"field":"t","type":"nominal"}}},
{"data":{"name":"km"},"mark":{"type":"text","font":"Liberation Sans","fontWeight":"bold","fontSize":11,"fill":"#000000","stroke":"#000000","strokeWidth":5},"encoding":{"x":{"field":"c"},"text":{"field":"t","type":"nominal"}}},
{"data":{"name":"iso"},"mark":{"type":"text","font":"Liberation Sans","fontWeight":"bold","fontSize":11,"fill":"#000000","stroke":"#000000","strokeWidth":5},"encoding":{"x":{"field":"lc"},"text":{"field":"p","type":"nominal"}}},
{"data":{"name":"gpdam"},"mark":{"type":"text","font":"Liberation Sans","fontWeight":"bold","fontSize":11,"fill":"#00e000"},"encoding":{"x":{"field":"c"},"text":{"field":"t","type":"nominal"}}},
{"data":{"name":"km"},"mark":{"type":"text","font":"Liberation Sans","fontWeight":"bold","fontSize":11,"fill":"#00e000"},"encoding":{"x":{"field":"c"},"text":{"field":"t","type":"nominal"}}},
{"data":{"values":[{"t":"[kt/kft]","x":17.98,"p":107.3}]},"mark":{"type":"text","font":"Liberation Sans","fontWeight":"bold","fontSize":10,"fill":"#000000","stroke":"#000000","strokeWidth":5},"encoding":{"text":{"field":"t","type":"nominal"}}},
{"data":{"values":[{"t":"[kt/kft]","x":17.98,"p":107.3}]},"mark":{"type":"text","font":"Liberation Sans","fontWeight":"bold","fontSize":10,"fill":"#e8e8e8"},"encoding":{"text":{"field":"t","type":"nominal"}}},
{"data":{"values":[
{"x":1.6,"p":150.1,"p2":175.2,"k":"pos"},{"x":2.39,"p":186,"p2":201.1,"k":"pos"},{"x":10.57,"p":174.3,"p2":187.1,"k":"pos"},{"x":5.86,"p":200.1,"p2":204.1,"k":"pos"},{"x":6.6,"p":203.1,"p2":228.5,"k":"pos"},{"x":8.07,"p":227.5,"p2":236.5,"k":"pos"},{"x":5.3,"p":235.3,"p2":251.9,"k":"pos"},{"x":12.85,"p":250.1,"p2":257.4,"k":"pos"},{"x":2.87,"p":256.2,"p2":264.8,"k":"pos"},{"x":5.74,"p":263.5,"p2":281.9,"k":"pos"},{"x":8.13,"p":280.3,"p2":284,"k":"pos"},{"x":9.82,"p":282.5,"p2":288.8,"k":"neg"},{"x":5.59,"p":287.4,"p2":301.5,"k":"pos"},{"x":4.63,"p":300,"p2":334.2,"k":"pos"},{"x":5.1,"p":332.4,"p2":347.9,"k":"pos"},{"x":7.32,"p":346.3,"p2":397,"k":"neg"},{"x":9.14,"p":395.5,"p2":402.4,"k":"neg"},{"x":1.55,"p":400.3,"p2":419.6,"k":"pos"},{"x":0.41,"p":417.4,"p2":502.7,"k":"pos"},{"x":0.04,"p":501.3,"p2":513.4,"k":"weak"},{"x":5.9,"p":509.9,"p2":529.6,"k":"neg"},{"x":1.45,"p":526.4,"p2":566.4,"k":"pos"},{"x":3.99,"p":563.6,"p2":593.1,"k":"pos"},{"x":3,"p":589.6,"p2":602.7,"k":"pos"},{"x":3.13,"p":601.6,"p2":643.2,"k":"pos"},{"x":0.74,"p":640,"p2":702.4,"k":"pos"},{"x":0.04,"p":700.3,"p2":802.5,"k":"weak"},{"x":7.87,"p":800,"p2":838.5,"k":"neg"},{"x":15.76,"p":830.9,"p2":856.2,"k":"neg"},{"x":3.44,"p":851.1,"p2":886.9,"k":"pos"},{"x":0.04,"p":881.5,"p2":888.7,"k":"weak"},{"x":4.51,"p":882.3,"p2":930.5,"k":"pos"},{"x":10.53,"p":925,"p2":946.3,"k":"pos"},{"x":15.87,"p":941.6,"p2":970.3,"k":"neg"}]},
"mark":{"type":"rule","strokeWidth":3,"strokeCap":"round","opacity":1},"encoding":{"y2":{"field":"p2"},"color":{"field":"k","type":"nominal","legend":null,"scale":{"domain":["pos","neg","weak"],"range":["#ffff00","#ff0000","#a89a00"]}}}},
{"data":{"values":[{"t":"Vert.Windscherung / kt/hft","x":0.68,"p":97.9}]},"mark":{"type":"text","align":"left","font":"Liberation Sans","fontWeight":"bold","fontSize":10,"fill":"#111111"},"encoding":{"text":{"field":"t","type":"nominal"}}}
]}
]}
